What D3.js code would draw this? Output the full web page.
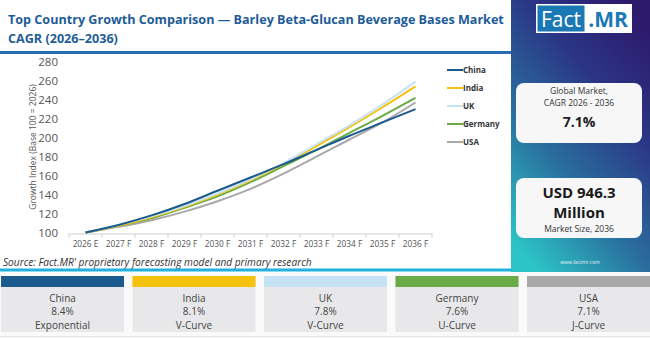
<!DOCTYPE html>
<html>
<head>
<meta charset="utf-8">
<script src="https://cdn.jsdelivr.net/npm/d3@7"></script>
<style>
  html, body { margin: 0; padding: 0; background: #ffffff; }
  svg { display: block; font-family: "Open Sans", "Noto Sans", sans-serif; }
</style>
</head>
<body>
<svg id="chart" width="650" height="338"></svg>
<script>
// Forecast years on the x axis
const years = ["2026 E", "2027 F", "2028 F", "2029 F", "2030 F", "2031 F", "2032 F", "2033 F", "2034 F", "2035 F", "2036 F"];

// Growth index per country (base 100 = 2026)
const countries = ["China", "India", "UK", "Germany", "USA"];
const chinaIdx   = [100, 108, 118, 130, 144, 158, 172, 187, 202, 216, 230];
const indiaIdx   = [100, 107, 116, 127, 140, 155, 172, 191, 211, 232, 254];
const ukIdx      = [100, 108, 117, 128, 141, 156, 173, 193, 213, 235, 259];
const germanyIdx = [100, 107, 115, 126, 138, 153, 170, 187, 205, 223, 242];
const usaIdx     = [100, 106, 113, 122, 133, 146, 162, 180, 198, 216, 237];

// Country summary cards
const cagrLabels  = ["8.4%", "8.1%", "7.8%", "7.6%", "7.1%"];
const curveLabels = ["Exponential", "V-Curve", "V-Curve", "U-Curve", "J-Curve"];
const colors      = ["#1b5a8c", "#f4c20d", "#c6e2f5", "#6aab45", "#a8a8a8"];

const yTicks = [100, 120, 140, 160, 180, 200, 220, 240, 260, 280];

const seriesValues = [chinaIdx, indiaIdx, ukIdx, germanyIdx, usaIdx];
// Draw order: back to front
const drawOrder = [4, 3, 1, 2, 0];

const svg = d3.select("#chart");

// shrink a text's font until it fits the given width
function fitWidth(sel, maxW) {
  const node = sel.node();
  let fs = parseFloat(sel.attr("font-size"));
  let w = node.getComputedTextLength();
  if (w > maxW) sel.attr("font-size", (fs * maxW / w).toFixed(2));
  return sel;
}

// ---------- Title ----------
const title = svg.append("g").attr("fill", "#1d5c98").attr("font-weight", 700);
const t1 = title.append("text").attr("x", 8).attr("y", 24).attr("font-size", 15)
  .text("Top Country Growth Comparison \u2014 Barley Beta-Glucan Beverage Bases Market");
fitWidth(t1, 496);
title.append("text").attr("x", 8).attr("y", 43).attr("font-size", t1.attr("font-size"))
  .text("CAGR (2026\u20132036)");

svg.append("rect").attr("x", 0).attr("y", 51).attr("width", 511).attr("height", 3).attr("fill", "#2b6cb0");

// ---------- Plot ----------
const x = d3.scaleBand().domain(years).range([69, 432]);
const y = d3.scaleLinear().domain([100, 280]).range([232.5, 61.7]);
const cx = d => x(d) + x.bandwidth() / 2;

// x axis
const xAxis = svg.append("g").attr("transform", "translate(0,233.5)")
  .call(d3.axisBottom(x).tickSize(0).tickPadding(8));
xAxis.select(".domain").attr("stroke", "#cfcfcf");
xAxis.selectAll("text").attr("fill", "#555").attr("font-size", 8.3).attr("font-family", "Open Sans, sans-serif");
// separators between categories
svg.append("g").selectAll("line")
  .data(years.concat(["__end"]))
  .join("line")
  .attr("x1", (d, i) => 69 + i * x.step()).attr("x2", (d, i) => 69 + i * x.step())
  .attr("y1", 233.5).attr("y2", 237.5)
  .attr("stroke", "#cfcfcf");

// y axis (labels only)
const yAxis = svg.append("g").attr("transform", "translate(59,0)")
  .call(d3.axisLeft(y).tickValues(yTicks).tickSize(0).tickPadding(1));
yAxis.select(".domain").remove();
yAxis.selectAll("text").attr("fill", "#555").attr("font-size", 11.5).attr("font-family", "Open Sans, sans-serif");

svg.append("text")
  .attr("transform", "translate(36,147) rotate(-90)")
  .attr("text-anchor", "middle")
  .attr("font-size", 8.5).attr("fill", "#555")
  .text("Growth Index (Base 100 = 2026)");

// lines
const line = d3.line()
  .x((d, i) => cx(years[i]))
  .y(d => y(d))
  .curve(d3.curveMonotoneX);

svg.append("g").selectAll("path")
  .data(drawOrder)
  .join("path")
  .attr("d", k => line(seriesValues[k]))
  .attr("fill", "none")
  .attr("stroke", k => colors[k])
  .attr("stroke-width", 2);

// legend
const legend = svg.append("g").selectAll("g")
  .data(countries)
  .join("g")
  .attr("transform", (d, i) => `translate(447,${70 + i * 18})`);
legend.append("line").attr("x1", 0).attr("x2", 16).attr("stroke", (d, i) => colors[i]).attr("stroke-width", 2);
legend.append("text").attr("x", 16).attr("y", 3)
  .attr("font-size", 8).attr("font-weight", 700).attr("fill", "#333")
  .text(d => d);

// source
const src = svg.append("text").attr("x", 3).attr("y", 266)
  .attr("font-size", 10.5).attr("font-style", "italic").attr("fill", "#333")
  .text("Source: Fact.MR' proprietary forecasting model and primary research");
fitWidth(src, 309);

svg.append("rect").attr("x", 0).attr("y", 268.5).attr("width", 511).attr("height", 3).attr("fill", "#1fb2dc");

// ---------- Side panel ----------
const defs = svg.append("defs");
const grad = defs.append("linearGradient").attr("id", "panelGrad")
  .attr("x1", "0.2").attr("y1", "1").attr("x2", "0.8").attr("y2", "0");
grad.append("stop").attr("offset", "0%").attr("stop-color", "#2cc3c6");
grad.append("stop").attr("offset", "35%").attr("stop-color", "#2a6f9e");
grad.append("stop").attr("offset", "70%").attr("stop-color", "#2b3585");
grad.append("stop").attr("offset", "100%").attr("stop-color", "#2d1a6d");

svg.append("rect").attr("x", 511).attr("y", 0).attr("width", 139).attr("height", 272).attr("fill", "url(#panelGrad)");

// logo
svg.append("rect").attr("x", 536).attr("y", 4).attr("width", 96).attr("height", 29).attr("fill", "#ffffff");
svg.append("rect").attr("x", 537.5).attr("y", 5.5).attr("width", 47).attr("height", 26).attr("fill", "#1a79b5");
const logoA = svg.append("text").attr("x", 561).attr("y", 26.5).attr("text-anchor", "middle")
  .attr("font-size", 21).attr("fill", "#ffffff").attr("font-family", "Open Sans, sans-serif")
  .text("Fact");
fitWidth(logoA, 42);
const logoB = svg.append("text").attr("x", 608).attr("y", 26.5).attr("text-anchor", "middle")
  .attr("font-size", 21).attr("font-weight", 700).attr("fill", "#1a79b5")
  .text(".MR");
fitWidth(logoB, 41);

// cards
svg.append("rect").attr("x", 516).attr("y", 83).attr("width", 126).attr("height", 60).attr("rx", 8).attr("fill", "#f7f7f8");
svg.append("text").attr("x", 579).attr("y", 94).attr("text-anchor", "middle").attr("font-size", 8.5).attr("fill", "#333").text("Global Market,");
svg.append("text").attr("x", 579).attr("y", 106).attr("text-anchor", "middle").attr("font-size", 8.5).attr("fill", "#333").text("CAGR 2026 - 2036");
svg.append("text").attr("x", 579).attr("y", 127).attr("text-anchor", "middle").attr("font-size", 14).attr("font-weight", 700).attr("fill", "#222").text("7.1%");

svg.append("rect").attr("x", 516).attr("y", 178).attr("width", 126).attr("height", 60).attr("rx", 8).attr("fill", "#f7f7f8");
svg.append("text").attr("x", 579).attr("y", 197.5).attr("text-anchor", "middle").attr("font-size", 15).attr("font-weight", 700).attr("fill", "#1a1a1a").text("USD 946.3");
svg.append("text").attr("x", 579).attr("y", 217.5).attr("text-anchor", "middle").attr("font-size", 15).attr("font-weight", 700).attr("fill", "#1a1a1a").text("Million");
svg.append("text").attr("x", 579).attr("y", 232).attr("text-anchor", "middle").attr("font-size", 8.5).attr("fill", "#333").text("Market Size, 2036");

svg.append("text").attr("x", 580).attr("y", 264).attr("text-anchor", "middle").attr("font-size", 5).attr("fill", "#e8eef5").text("www.factmr.com");

// ---------- Bottom country cards ----------
svg.append("rect").attr("x", 0).attr("y", 272).attr("width", 650).attr("height", 66).attr("fill", "#fafafa");
const cards = svg.append("g").selectAll("g")
  .data(countries)
  .join("g")
  .attr("transform", (d, i) => `translate(${1 + i * 131.5},276)`);
cards.append("rect").attr("width", 123).attr("height", 56).attr("fill", "#e8e8ea");
cards.append("rect").attr("width", 123).attr("height", 11).attr("fill", (d, i) => colors[i]);
cards.append("text").attr("x", 61.5).attr("y", 25.5).attr("text-anchor", "middle").attr("font-size", 10).attr("fill", "#444").text(d => d);
cards.append("text").attr("x", 61.5).attr("y", 39).attr("text-anchor", "middle").attr("font-size", 10).attr("fill", "#444").text((d, i) => cagrLabels[i]);
cards.append("text").attr("x", 61.5).attr("y", 52.5).attr("text-anchor", "middle").attr("font-size", 10).attr("fill", "#444").text((d, i) => curveLabels[i]);
svg.append("rect").attr("x", 0).attr("y", 336).attr("width", 650).attr("height", 1).attr("fill", "#e4e4e4");
</script>
</body>
</html>
